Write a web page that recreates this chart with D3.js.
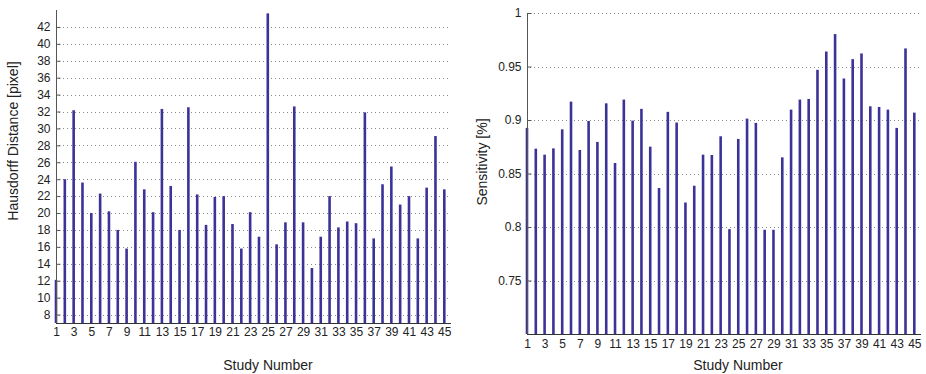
<!DOCTYPE html>
<html>
<head>
<meta charset="utf-8">
<script src="https://cdn.jsdelivr.net/npm/d3@7"></script>
<style>
  html, body { margin: 0; padding: 0; background: #fff; }
  svg { display: block; font-family: "Liberation Sans", Arial, Helvetica, sans-serif; }
</style>
</head>
<body>
<svg id="chart" width="926" height="374"></svg>
<script>
// ---- data ----
const studies = d3.range(1, 46);
const hausdorff = [12.1, 24.0, 32.15, 23.6, 20.0, 22.3, 20.2, 18.0, 15.8, 26.05,
  22.8, 20.1, 32.3, 23.2, 18.0, 32.5, 22.2, 18.6, 21.9, 22.0,
  18.7, 15.8, 20.1, 17.2, 43.6, 16.3, 18.9, 32.6, 18.9, 13.5,
  17.2, 22.0, 18.3, 19.0, 18.8, 31.9, 17.0, 23.4, 25.5, 21.0,
  22.0, 17.0, 23.0, 29.1, 22.8];
const sensitivity = [0.8926, 0.8732, 0.8676, 0.8735, 0.8913, 0.9172, 0.8720, 0.8991, 0.8795, 0.9156,
  0.8598, 0.9191, 0.8994, 0.9104, 0.8751, 0.8364, 0.9076, 0.8976, 0.8229, 0.8386,
  0.8676, 0.8673, 0.8848, 0.7980, 0.8823, 0.9013, 0.8973, 0.7974, 0.7974, 0.8651,
  0.9097, 0.9191, 0.9197, 0.9469, 0.9640, 0.9803, 0.9388, 0.9569, 0.9622, 0.9128,
  0.9122, 0.9097, 0.8926, 0.9669, 0.9069];
const xTickValues = d3.range(1, 46, 2);
const leftYTicks = d3.range(8, 43, 2);
const rightYTicks = [0.75, 0.8, 0.85, 0.9, 0.95, 1];
const rightYTickLabels = ["0.75", "0.8", "0.85", "0.9", "0.95", "1"];

const svg = d3.select("#chart");
const barColor = "#3c3399";

function panel(cfg) {
  const x = d3.scaleLinear().domain([1, 45.76]).range([cfg.x0, cfg.x1]);
  const y = d3.scaleLinear().domain(cfg.yDomain).range([cfg.y1, cfg.y0]);
  const g = svg.append("g");

  // grid
  g.append("g").selectAll("line").data(cfg.yTicks).join("line")
    .attr("x1", cfg.x0 + 3).attr("x2", cfg.x1)
    .attr("y1", d => Math.round(y(d)) + 0.5).attr("y2", d => Math.round(y(d)) + 0.5)
    .attr("stroke", "#8a8a8a").attr("stroke-width", 1)
    .attr("stroke-dasharray", "1,3");

  // bars
  g.append("g").selectAll("rect").data(cfg.values).join("rect")
    .attr("x", (d, i) => x(studies[i]) - 1.3)
    .attr("width", 2.6)
    .attr("y", d => y(d))
    .attr("height", d => y(cfg.yDomain[0]) - y(d))
    .attr("fill", barColor);

  // y axis
  const yAxis = d3.axisLeft(y).tickValues(cfg.yTicks).tickSize(-4).tickPadding(6)
    .tickFormat((d, i) => cfg.yLabels ? cfg.yLabels[i] : d);
  const ya = g.append("g").attr("transform", `translate(${cfg.x0 + 0.5},0)`).call(yAxis);
  ya.select(".domain").attr("stroke", "#555").attr("d", `M0,${cfg.y0}V${cfg.y1}`);
  ya.selectAll(".tick line").attr("stroke", "#555");
  ya.selectAll("text").attr("font-size", 12).attr("fill", "#222")
    .attr("font-family", "Liberation Sans, Arial, sans-serif");

  // x axis
  const xAxis = d3.axisBottom(x).tickValues(xTickValues).tickSize(0).tickPadding(cfg.xPad);
  const xa = g.append("g").attr("transform", `translate(0,${cfg.y1 + 0.5})`).call(xAxis);
  xa.select(".domain").attr("stroke", "#333").attr("d", `M${cfg.x0},0H${cfg.x1}`);
  xa.selectAll("text").attr("font-size", 12).attr("fill", "#222")
    .attr("font-family", "Liberation Sans, Arial, sans-serif");

  // labels
  g.append("text").attr("x", cfg.xLabelX).attr("y", cfg.xLabelY)
    .attr("text-anchor", "middle").attr("font-size", 14).attr("fill", "#222")
    .text("Study Number");
  g.append("text")
    .attr("transform", `translate(${cfg.yLabelX},${cfg.yLabelY}) rotate(-90)`)
    .attr("text-anchor", "middle").attr("font-size", 14).attr("fill", "#222")
    .text(cfg.yTitle);
}

panel({
  x0: 56, x1: 451, y0: 10, y1: 323,
  yDomain: [7, 44], values: hausdorff, yTicks: leftYTicks,
  xPad: 4, xLabelX: 268, xLabelY: 370,
  yLabelX: 18, yLabelY: 141, yTitle: "Hausdorff Distance [pixel]"
});
panel({
  x0: 527, x1: 921, y0: 13, y1: 334,
  yDomain: [0.7, 1], values: sensitivity, yTicks: rightYTicks, yLabels: rightYTickLabels,
  xPad: 5, xLabelX: 738, xLabelY: 370,
  yLabelX: 487, yLabelY: 162, yTitle: "Sensitivity [%]"
});
</script>
</body>
</html>
